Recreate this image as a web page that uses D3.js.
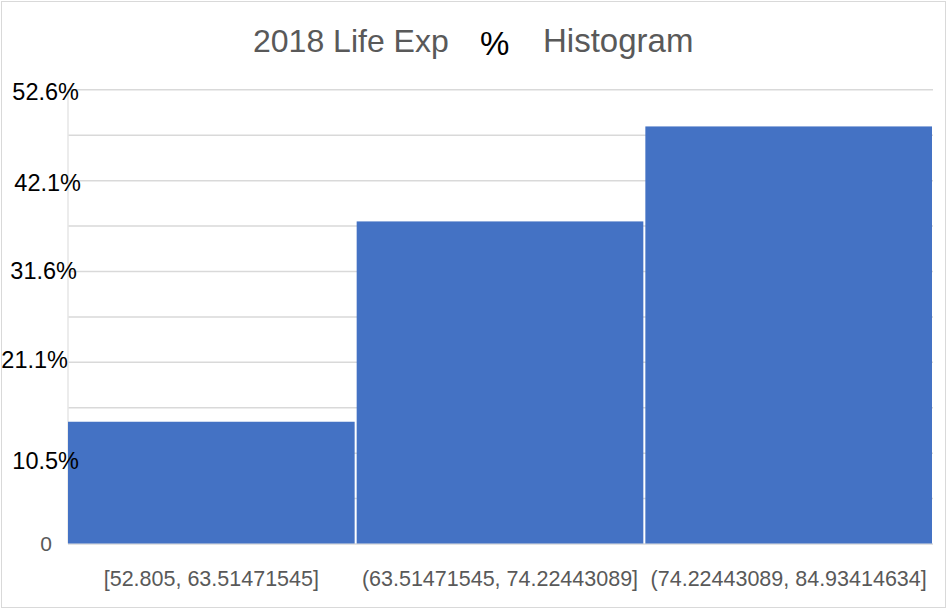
<!DOCTYPE html>
<html>
<head>
<meta charset="utf-8">
<script src="https://cdn.jsdelivr.net/npm/d3@7"></script>
<style>
  body { margin: 0; background: #fff; }
  svg { display: block; }
</style>
</head>
<body>
<div id="chart"></div>
<script>
(function() {
"use strict";

// bins of 2018 life expectancy, share of countries in each bin (%)
const BINS = ["[52.805, 63.51471545]", "(63.51471545, 74.22443089]", "(74.22443089, 84.93414634]"];
const SHARES = [14.1, 37.3, 48.3];

// overlaid percent labels on the y axis
const TICK_VALUES = [10.5, 21.1, 31.6, 42.1, 52.6];
const TICK_LABELS = ["10.5%", "21.1%", "31.6%", "42.1%", "52.6%"];
const GRID_STEP = 5.26;

const WIDTH = 951;
const HEIGHT = 610;
const LEFT = 68, RIGHT = 932, TOP = 89.3, BOTTOM = 543.5;

const SVG = d3.select("#chart")
              .append("svg")
              .attr("width", WIDTH)
              .attr("height", HEIGHT);

// outer chart frame
SVG.append("rect")
  .attr("x", 1.5).attr("y", 1.5)
  .attr("width", 944).attr("height", 606)
  .attr("fill", "#fff")
  .attr("stroke", "#d9d9d9");

const xScale = d3.scaleBand()
                .domain(BINS)
                .range([LEFT, RIGHT])
                .paddingInner(0.007)
                .paddingOuter(0);

const yScale = d3.scaleLinear()
                .domain([0, 52.6])
                .range([BOTTOM, TOP]);

const gridValues = d3.range(0, 11).map((i) => i * GRID_STEP);

// gridlines
SVG.append("g")
  .attr("class", "grid")
  .attr("transform", `translate(${LEFT}, 0)`)
  .call(d3.axisLeft(yScale).tickValues(gridValues).tickSize(-(RIGHT - LEFT + 1)).tickFormat(""))
  .call((g) => g.select(".domain").remove())
  .call((g) => g.selectAll("line").attr("stroke", "#d9d9d9").attr("stroke-width", 1.5));

// faint left edge of plot area
SVG.append("line")
  .attr("x1", LEFT).attr("x2", LEFT)
  .attr("y1", TOP).attr("y2", BOTTOM)
  .attr("stroke", "#e6e6e6")
  .attr("stroke-width", 1.5);

// bars
SVG.selectAll("rect.bar")
  .data(SHARES)
  .enter()
  .append("rect")
    .attr("class", "bar")
    .attr("x", (d, i) => xScale(BINS[i]))
    .attr("y", (d) => yScale(d))
    .attr("width", xScale.bandwidth())
    .attr("height", (d) => yScale(0) - yScale(d))
    .attr("fill", "#4472c4");

// x axis labels
const xAxis = d3.axisBottom(xScale).tickSize(0).tickPadding(27);
SVG.append("g")
  .attr("class", "x-axis")
  .attr("transform", `translate(0, ${BOTTOM})`)
  .call(xAxis)
  .call((g) => g.select(".domain").remove())
  .call((g) => g.selectAll("text")
    .attr("fill", "#595959")
    .style("font-family", "'Liberation Sans', Arial, sans-serif")
    .style("font-size", "21.5px"));

// native zero label
SVG.append("text")
  .attr("x", 46)
  .attr("y", yScale(0))
  .attr("dy", "0.35em")
  .attr("text-anchor", "middle")
  .attr("fill", "#595959")
  .style("font-family", "'Liberation Sans', Arial, sans-serif")
  .style("font-size", "21px")
  .text("0");

// pasted-on percent labels, slightly uneven
const nudge = [[0, 8], [-11, -1.5], [-2, 0], [2, 3], [0, 2.7]];
SVG.selectAll("text.pct")
  .data(TICK_VALUES)
  .enter()
  .append("text")
    .attr("class", "pct")
    .attr("x", (d, i) => 79 + nudge[i][0])
    .attr("y", (d, i) => yScale(d) + nudge[i][1])
    .attr("dy", "0.35em")
    .attr("text-anchor", "end")
    .attr("fill", "#000")
    .style("font-family", "'Liberation Sans', Arial, sans-serif")
    .style("font-size", "23.5px")
    .text((d, i) => TICK_LABELS[i]);

// title pieces
const titleFont = "'Liberation Sans', Arial, sans-serif";
SVG.append("text")
  .attr("x", 253).attr("y", 52)
  .attr("fill", "#595959")
  .style("font-family", titleFont)
  .style("font-size", "32px")
  .text("2018 Life Exp");

SVG.append("text")
  .attr("x", 480).attr("y", 55)
  .attr("fill", "#000")
  .style("font-family", titleFont)
  .style("font-size", "33px")
  .text("%");

SVG.append("text")
  .attr("x", 543).attr("y", 52)
  .attr("fill", "#595959")
  .style("font-family", titleFont)
  .style("font-size", "33px")
  .text("Histogram");

})();
</script>
</body>
</html>
